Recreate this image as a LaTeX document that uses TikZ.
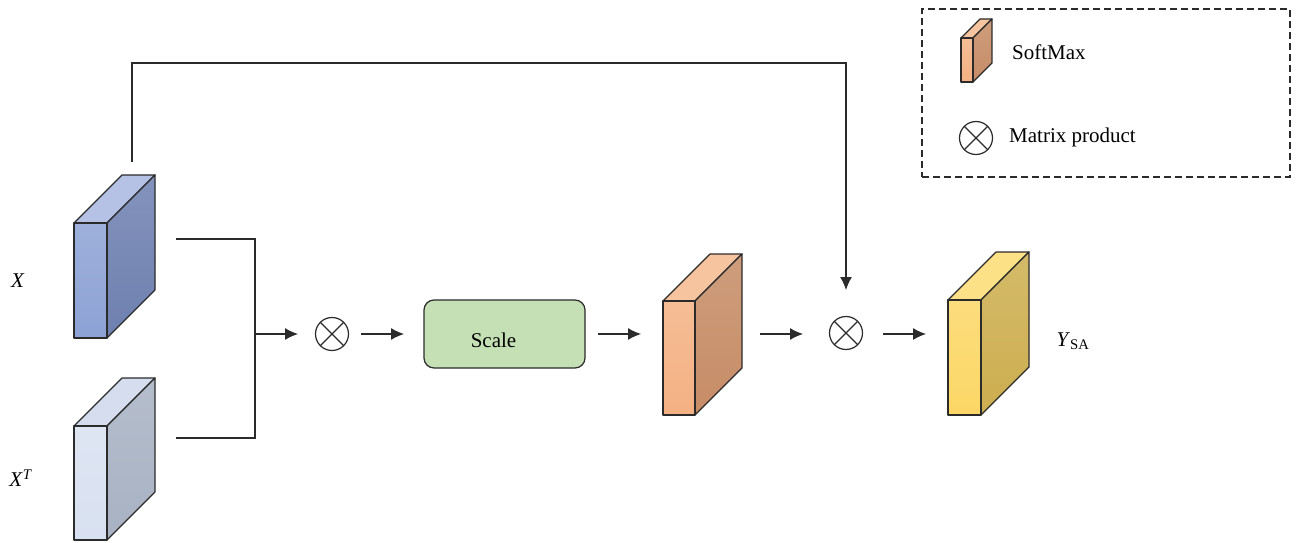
\documentclass[tikz,border=0pt]{standalone}
\usepackage{fontspec}
\setmainfont{Liberation Serif}
\usetikzlibrary{arrows.meta}
\definecolor{edge}{HTML}{2B2B2B}
\definecolor{bluefront}{HTML}{8DA2D5}
\definecolor{blueside}{HTML}{6E80B0}
\definecolor{bluetop}{HTML}{B5C1E5}
\definecolor{palefront}{HTML}{D8E1F1}
\definecolor{paleside}{HTML}{A8B2C3}
\definecolor{paletop}{HTML}{D5DDEE}
\definecolor{orfront}{HTML}{F4B183}
\definecolor{orside}{HTML}{C68C66}
\definecolor{ortop}{HTML}{F6C49F}
\definecolor{yefront}{HTML}{FCD766}
\definecolor{yeside}{HTML}{CDAE4F}
\definecolor{yetop}{HTML}{FDE186}
\definecolor{scalefill}{HTML}{C5E0B4}
\newcommand\cuboid[9]{%
  \path[draw=edge, line width=1.2, fill=#9, line join=round] (#2,#3) -- ++(#6,-#6) -- ++(#4,0) -- ++(-#6,#6) -- cycle;
  \path[draw=edge, line width=1.2, top color=#8!85!white, bottom color=#8, line join=round] (#2+#4,#3) -- ++(#6,-#6) -- ++(0,#5) -- ++(-#6,#6) -- cycle;
  \path[draw=edge, line width=1.2, top color=#7!85!white, bottom color=#7, line join=round] (#2,#3) rectangle ++(#4,#5);
  \coordinate (#1) at (#2+#4/2,#3+#5/2);
}
\begin{document}
\begin{tikzpicture}[x=1pt,y=-1pt,
  txt/.style={font=\fontsize{21}{24}\selectfont, inner sep=0pt},
  conn/.style={line width=1.2, draw=edge},
  arr/.style={conn, -{Latex[length=13,width=12]}},
  prod/.style={circle, draw=edge, line width=1.2, minimum size=33, inner sep=0pt,
    path picture={\draw[edge, line width=1.2] (path picture bounding box.north west) -- (path picture bounding box.south east)
      (path picture bounding box.north east) -- (path picture bounding box.south west);}},
  scalebox/.style={draw=edge, line width=1.2, fill=scalefill, rounded corners=10, minimum width=161, minimum height=68, inner sep=0pt, font=\fontsize{21}{24}\selectfont}]
\useasboundingbox (0,0) rectangle (1302,543);

% cuboids
\cuboid{xbox}{74}{223}{33}{115}{48}{bluefront}{blueside}{bluetop}
\cuboid{xtbox}{74}{426}{33}{114}{48}{palefront}{paleside}{paletop}
\cuboid{smbox}{663}{301}{32}{114}{47}{orfront}{orside}{ortop}
\cuboid{ybox}{948}{300}{33}{115}{48}{yefront}{yeside}{yetop}

% labels
\node[txt] (lx) at (18,281) {\textit{X}};
\node[txt] (lxt) at (21,478) {\textit{X}\textsuperscript{\textit{T}}};
\node[txt] (ly) at (1073,341) {\textit{Y}\textsubscript{SA}};

% nodes
\node[prod] (p1) at (332,334) {};
\node[scalebox] (scale) at (504.5,334) {\raisebox{-13pt}[0pt][0pt]{\makebox[0pt]{Scale\hspace*{22pt}}}};
\node[prod] (p2) at (846,333) {};

% bracket join
\coordinate (xout) at (176,239);
\coordinate (xtout) at (176,438);
\coordinate (join) at (255,334);
\draw[conn] (xout) -- (255,239) -- (255,438) -- (xtout);
\draw[arr] (join) -- (298,334);
\draw[arr] (361,334) -- (scale.west -| 404,0);
\coordinate (smin) at (598,334);
\draw[arr] (smin) -- (641,334);
\coordinate (smout) at (760,334);
\draw[arr] (smout) -- (803,334);
\draw[arr] (883,334) -- (926,334);

% skip connection
\coordinate (xtop) at (132,162);
\draw[arr] (xtop) -- (132,63) -| (p2.north |- 0,290);

% legend
\node[draw=edge, dash pattern=on 7pt off 4pt, line width=1.1, minimum width=368, minimum height=168, inner sep=0pt] (legend) at (1106,93) {};
\cuboid{legbox}{961}{38}{12}{44}{19}{orfront}{orside}{ortop}
\node[txt, anchor=west] (legsm) at (1012,52) {SoftMax};
\node[prod] (legp) at (976,138) {};
\node[txt, anchor=west] (legmp) at (1009,137) {Matrix product};
\end{tikzpicture}
\end{document}
